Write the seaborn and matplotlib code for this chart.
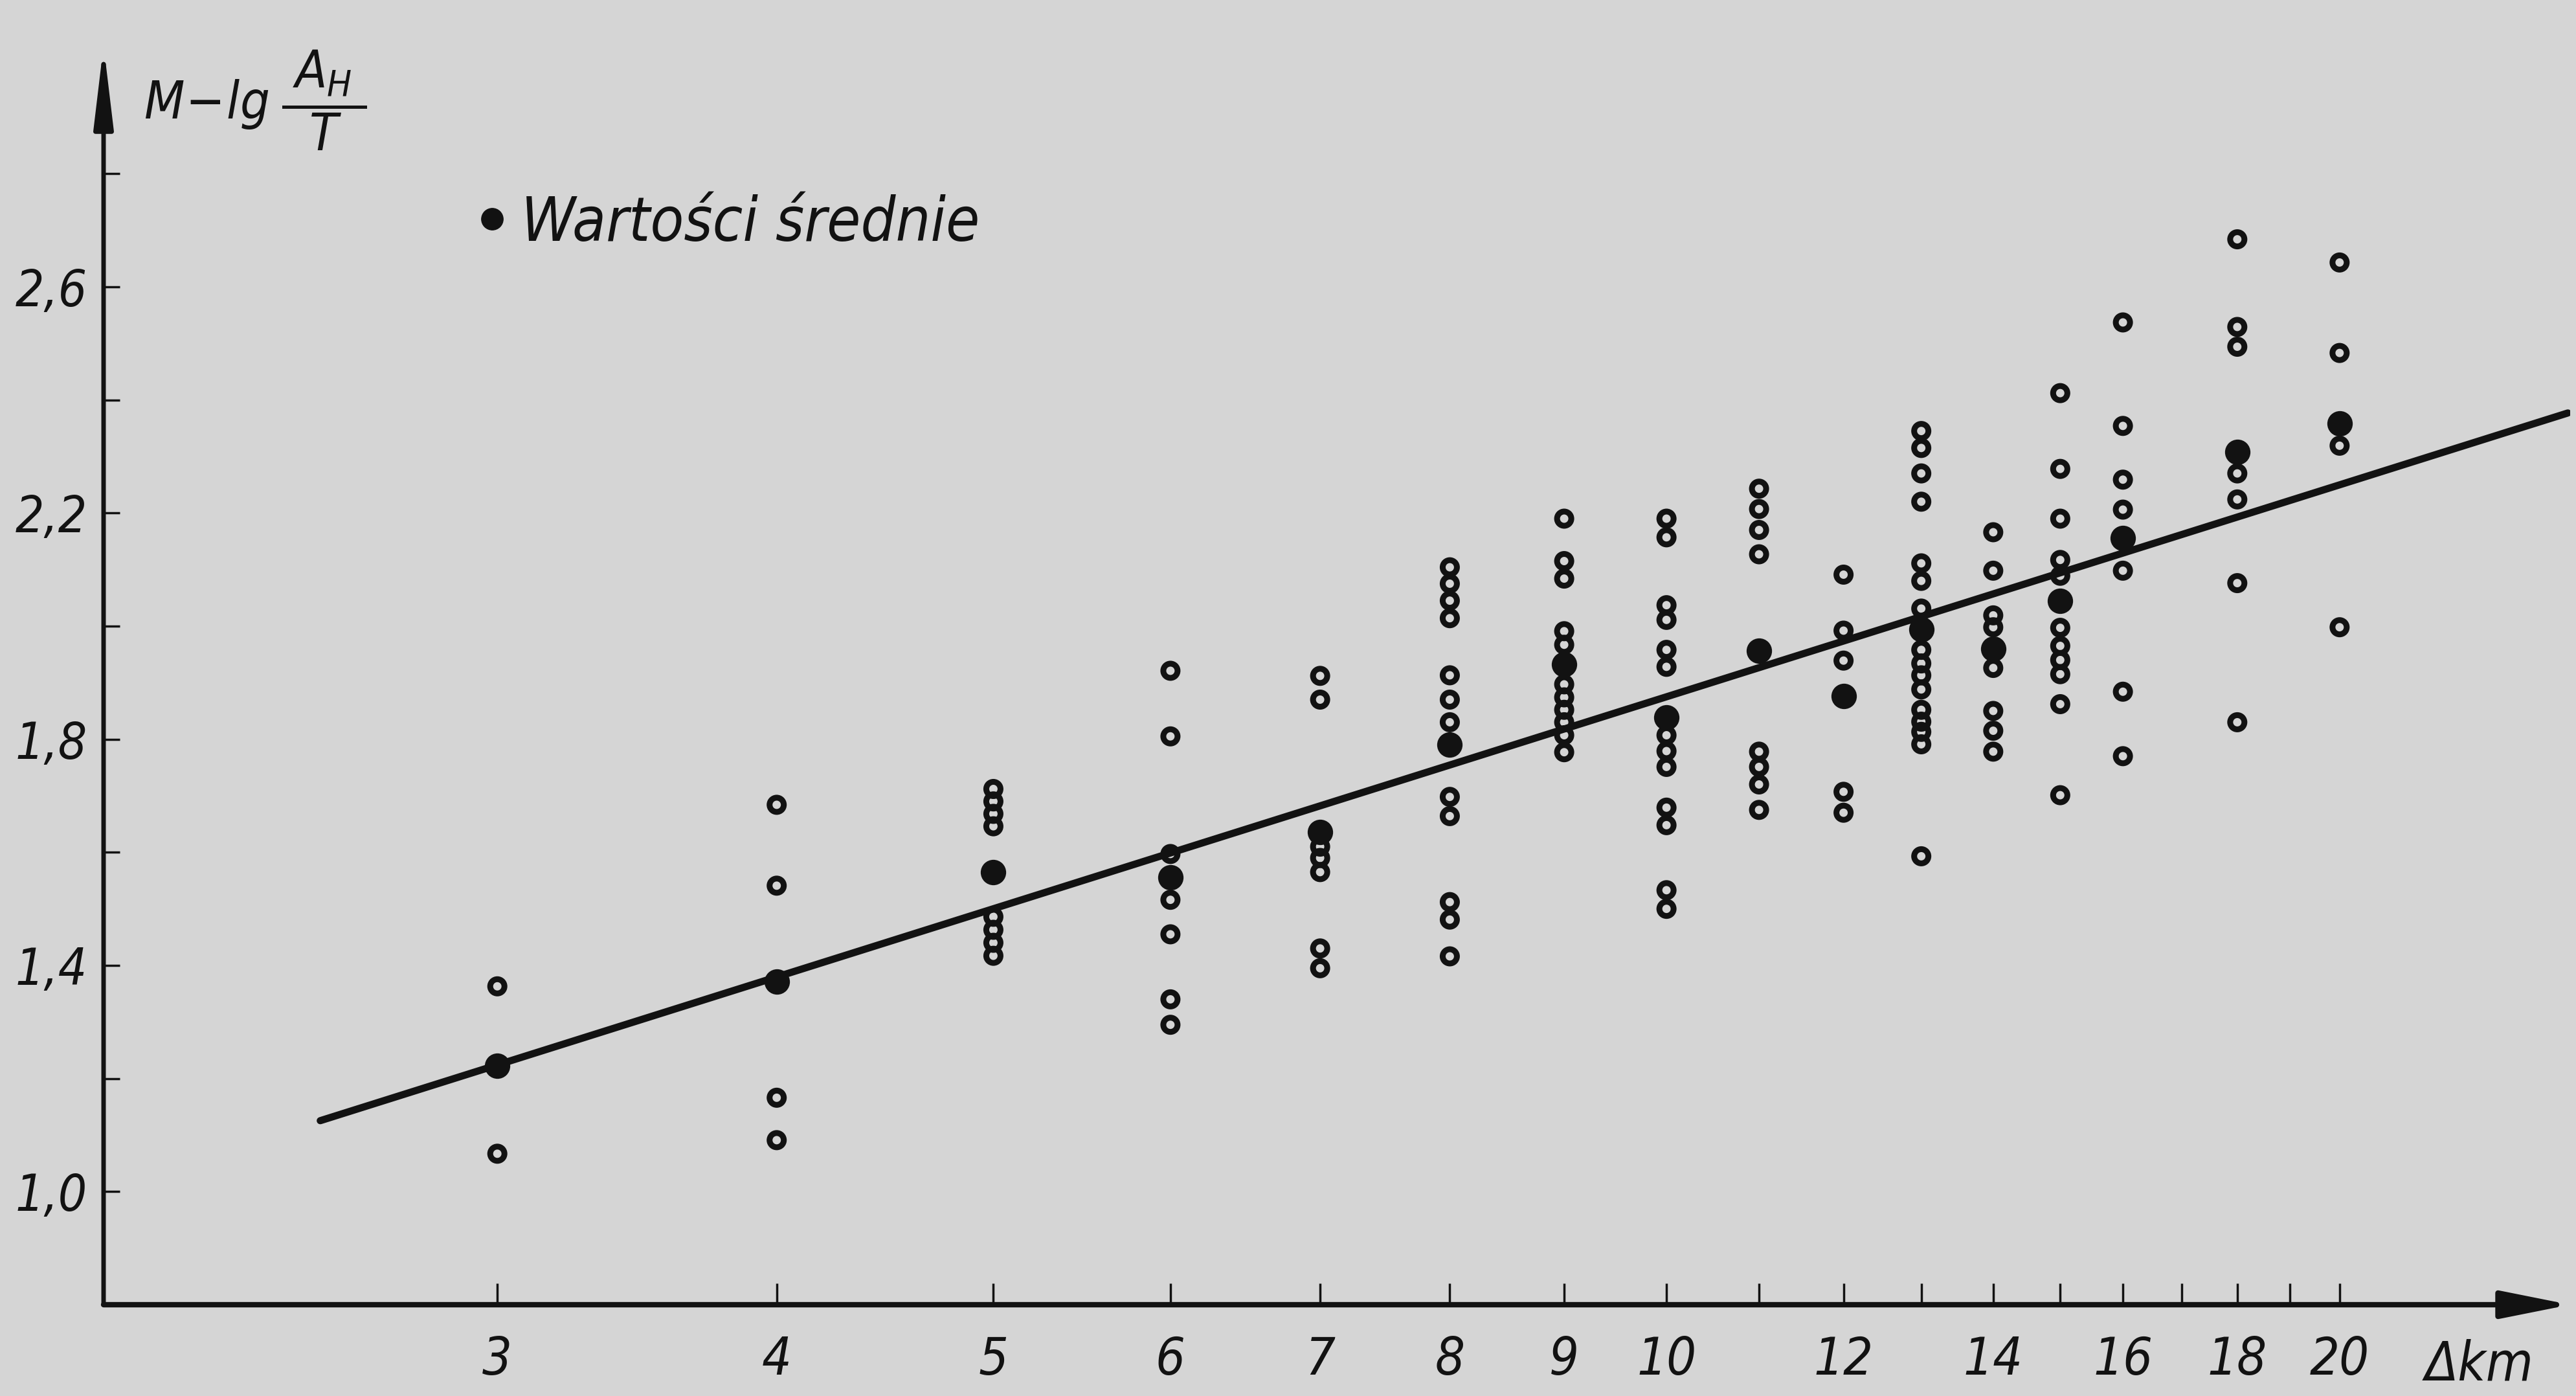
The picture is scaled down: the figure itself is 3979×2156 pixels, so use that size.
import numpy as np
import pandas as pd
import matplotlib
matplotlib.use("Agg")
import matplotlib.pyplot as plt
import seaborn as sns
from matplotlib.ticker import FixedLocator, FixedFormatter, NullLocator
from matplotlib.lines import Line2D

# ---------------- data ----------------
distances_km = [3, 4, 5, 6, 7, 8, 9, 10, 11, 12, 13, 14, 15, 16, 18, 20]

vals_3 = [1.363, 1.067]
vals_4 = [1.684, 1.541, 1.166, 1.091]
vals_5 = [1.712, 1.690, 1.668, 1.646, 1.486, 1.463, 1.440, 1.417]
vals_6 = [1.921, 1.805, 1.597, 1.516, 1.455, 1.340, 1.295]
vals_7 = [1.912, 1.870, 1.610, 1.590, 1.565, 1.430, 1.395]
vals_8 = [2.104, 2.075, 2.045, 2.014, 1.913, 1.870, 1.830, 1.698, 1.664, 1.512, 1.481, 1.416]
vals_9 = [2.190, 2.115, 2.084, 1.991, 1.967, 1.897, 1.874, 1.852, 1.830, 1.807, 1.777]
vals_10 = [2.190, 2.157, 2.037, 2.011, 1.958, 1.928, 1.807, 1.779, 1.751, 1.679, 1.648, 1.533, 1.500]
vals_11 = [2.243, 2.207, 2.170, 2.127, 1.778, 1.751, 1.720, 1.675]
vals_12 = [2.091, 1.992, 1.939, 1.707, 1.670]
vals_13 = [2.345, 2.315, 2.270, 2.220, 2.111, 2.080, 2.031, 1.958, 1.934, 1.913, 1.888, 1.852,
           1.831, 1.813, 1.791, 1.593]
vals_14 = [2.166, 2.098, 2.019, 1.998, 1.926, 1.850, 1.815, 1.778]
vals_15 = [2.412, 2.278, 2.190, 2.117, 2.089, 1.997, 1.965, 1.940, 1.915, 1.862, 1.701]
vals_16 = [2.537, 2.354, 2.259, 2.206, 2.098, 1.884, 1.770]
vals_18 = [2.684, 2.529, 2.494, 2.270, 2.224, 2.076, 1.830]
vals_20 = [2.643, 2.483, 2.319, 1.998]

mean_values = [1.222, 1.371, 1.565, 1.556, 1.636, 1.790, 1.932, 1.838, 1.956, 1.876,
               1.994, 1.960, 2.045, 2.156, 2.308, 2.358]

# fitted straight line  y = a + b*log10(dist), drawn over this range
fit_intercept = 0.63
fit_slope = 1.245
fit_range_km = [2.5, 25.3]

x_tick_values = [3, 4, 5, 6, 7, 8, 9, 10, 11, 12, 13, 14, 15, 16, 17, 18, 19, 20]
x_tick_labels = ["3", "4", "5", "6", "7", "8", "9", "10", "", "12", "", "14", "", "16", "", "18", "", "20"]
y_tick_values = [1.0, 1.2, 1.4, 1.6, 1.8, 2.0, 2.2, 2.4, 2.6, 2.8]
y_tick_labels = ["1,0", "", "1,4", "", "1,8", "", "2,2", "", "2,6", ""]

legend_label = "Wartości średnie"
x_axis_label = "Δkm"
y_axis_label = r"$M\!-\!lg\;\dfrac{\;A_H\;}{T}$"

# ---------------- build tables ----------------
columns = [vals_3, vals_4, vals_5, vals_6, vals_7, vals_8, vals_9, vals_10, vals_11,
           vals_12, vals_13, vals_14, vals_15, vals_16, vals_18, vals_20]
obs = pd.concat(
    [pd.DataFrame({"dist": d, "value": v}) for d, v in zip(distances_km, columns)],
    ignore_index=True,
)
means = pd.DataFrame({"dist": distances_km, "value": mean_values})
line_x = np.array(fit_range_km, dtype=float)
line = pd.DataFrame({"dist": line_x, "value": fit_intercept + fit_slope * np.log10(line_x)})

# ---------------- style ----------------
BG = "#d5d5d5"
INK = "#121212"

sns.set_theme(style="white")
plt.rcParams["font.family"] = ["DejaVu Sans"]
plt.rcParams["font.stretch"] = "condensed"
plt.rcParams["font.style"] = "italic"
plt.rcParams["mathtext.fontset"] = "dejavusans"

W, H = 3980, 2156
fig = plt.figure(figsize=(W / 100, H / 100), dpi=100)
fig.patch.set_facecolor(BG)

left_px, right_px, bottom_px, top_px = 160, 3970, 2015, 70
ax = fig.add_axes([left_px / W, (H - bottom_px) / H, (right_px - left_px) / W, (bottom_px - top_px) / H])
ax.set_facecolor(BG)
ax.set_xscale("log")
ax.set_xlim(2.0, 25.36)
ax.set_ylim(0.8, 3.027)

# regression line
sns.lineplot(data=line, x="dist", y="value", ax=ax, color=INK, linewidth=8, zorder=3)

# individual observations: open circles
sns.scatterplot(data=obs, x="dist", y="value", ax=ax, s=250, marker="o",
                facecolors="none", edgecolor=INK, linewidth=6.5, zorder=4)

# mean values: filled dots
sns.scatterplot(data=means, x="dist", y="value", ax=ax, s=800, marker="o",
                color=INK, edgecolor=INK, linewidth=0, zorder=5)

# axes as arrows
for s in ax.spines.values():
    s.set_visible(False)
ax.annotate("", xy=(1, 0), xytext=(0, 0), xycoords="axes fraction", textcoords="axes fraction",
            annotation_clip=False,
            arrowprops=dict(arrowstyle="-|>,head_length=0.65,head_width=0.13", lw=6,
                            color=INK, shrinkA=0, shrinkB=0, mutation_scale=100))
ax.annotate("", xy=(0, 1), xytext=(0, 0), xycoords="axes fraction", textcoords="axes fraction",
            annotation_clip=False,
            arrowprops=dict(arrowstyle="-|>,head_length=0.75,head_width=0.09", lw=5,
                            color=INK, shrinkA=0, shrinkB=0, mutation_scale=100))

# ticks
ax.xaxis.set_major_locator(FixedLocator(x_tick_values))
ax.xaxis.set_major_formatter(FixedFormatter(x_tick_labels))
ax.xaxis.set_minor_locator(NullLocator())
ax.yaxis.set_major_locator(FixedLocator(y_tick_values))
ax.yaxis.set_major_formatter(FixedFormatter(y_tick_labels))
ax.yaxis.set_minor_locator(NullLocator())
ax.tick_params(axis="x", which="major", direction="in", length=24, width=2.5, color=INK,
               pad=34, labelsize=58, labelcolor=INK, bottom=True)
ax.tick_params(axis="y", which="major", direction="in", length=18, width=2.5, color=INK,
               pad=18, labelsize=56, labelcolor=INK, left=True)
ax.set_xlabel("")
ax.set_ylabel("")

# axis labels
fig.text(3830 / W, 1 - 2108 / H, x_axis_label, ha="center", va="center",
         fontsize=60, color=INK, style="italic")
fig.text(222 / W, 1 - 155 / H, y_axis_label, ha="left", va="center",
         fontsize=58, color=INK)

# legend
handle = Line2D([], [], marker="o", linestyle="", color=INK, markersize=24)
leg = ax.legend(handles=[handle], labels=[legend_label], loc="center left",
                bbox_to_anchor=(739 / W, 1 - 345 / H), bbox_transform=fig.transFigure,
                frameon=False, fontsize=68, handlelength=0.45, handletextpad=0.25,
                borderpad=0, borderaxespad=0, labelcolor=INK)

fig.savefig("out.png", dpi=100, facecolor=BG)
